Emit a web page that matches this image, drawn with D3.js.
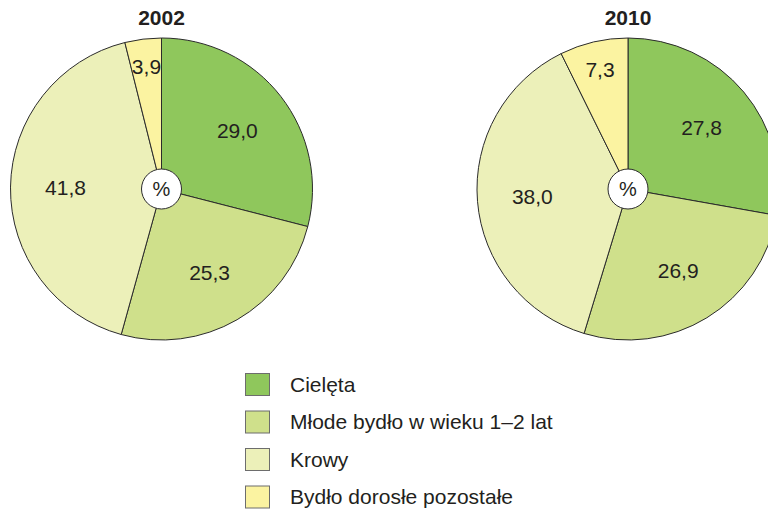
<!DOCTYPE html>
<html>
<head>
<meta charset="utf-8">
<script src="https://cdn.jsdelivr.net/npm/d3@7"></script>
<style>
  body { margin: 0; background: #fff; }
  svg { display: block; font-family: Arial, "Liberation Sans", sans-serif; }
</style>
</head>
<body>
<svg id="chart" width="768" height="513"></svg>
<script>
// categories and values (percent)
const categories = ["Cielęta", "Młode bydło w wieku 1–2 lat", "Krowy", "Bydło dorosłe pozostałe"];
const years = ["2002", "2010"];
const values2002 = [29.0, 25.3, 41.8, 3.9];
const values2010 = [27.8, 26.9, 38.0, 7.3];
const colors = ["#8fc75c", "#cfe08b", "#ecf0b9", "#fbf3a1"];

let svg = d3.select("#chart");
let radius = 151;
let centers = [161.5, 628]; // x of each pie
let cy = 189;

let color = d3.scaleOrdinal().domain(categories).range(colors);
let fmt = function (v) { return d3.format(".1f")(v).replace(".", ","); };

let pie = d3.pie().sort(null).value(function (d) { return d.value; });
let arc = d3.arc().innerRadius(0).outerRadius(radius);

[values2002, values2010].forEach(function (vals, k) {
  let data = categories.map(function (c, i) { return {cat: c, value: vals[i]}; });
  let g = svg.append("g").attr("transform", "translate(" + centers[k] + "," + cy + ")");

  g.selectAll(".slice")
    .data(pie(data))
    .enter()
    .append("path")
    .attr("class", "slice")
    .attr("d", arc)
    .attr("fill", function (d) { return color(d.data.cat); })
    .attr("stroke", "#2b2b2b")
    .attr("stroke-width", 1);

  g.selectAll(".lbl")
    .data(pie(data))
    .enter()
    .append("text")
    .attr("class", "lbl")
    .attr("transform", function (d) {
      let r = d.data.value < 10 ? 123 : 96; // small slices sit nearer the rim
      let la = d3.arc().innerRadius(r).outerRadius(r);
      return "translate(" + la.centroid(d) + ")";
    })
    .attr("text-anchor", "middle")
    .attr("dy", "0.36em")
    .attr("font-size", 21)
    .attr("fill", "#231f20")
    .text(function (d) { return fmt(d.data.value); });

  // centre badge
  g.append("circle")
    .attr("r", 20)
    .attr("fill", "#fff")
    .attr("stroke", "#2b2b2b")
    .attr("stroke-width", 1);
  g.append("text")
    .attr("text-anchor", "middle")
    .attr("dy", "0.36em")
    .attr("font-size", 20)
    .attr("fill", "#231f20")
    .text("%");

  svg.append("text")
    .attr("x", centers[k])
    .attr("y", 25)
    .attr("text-anchor", "middle")
    .attr("font-size", 21)
    .attr("font-weight", "bold")
    .attr("fill", "#231f20")
    .text(years[k]);
});

// legend
let legend = svg.append("g").attr("transform", "translate(245,373)");
let item = legend.selectAll(".item")
  .data(categories)
  .enter()
  .append("g")
  .attr("class", "item")
  .attr("transform", function (d, i) { return "translate(0," + (i * 37.5) + ")"; });

item.append("rect")
  .attr("x", 0.5)
  .attr("y", 0.5)
  .attr("width", 24)
  .attr("height", 22)
  .attr("fill", function (d) { return color(d); })
  .attr("stroke", "#6d6d6d")
  .attr("stroke-width", 1);

item.append("text")
  .attr("x", 45)
  .attr("y", 11)
  .attr("dy", "0.36em")
  .attr("font-size", 21)
  .attr("fill", "#231f20")
  .text(function (d) { return d; });
</script>
</body>
</html>
